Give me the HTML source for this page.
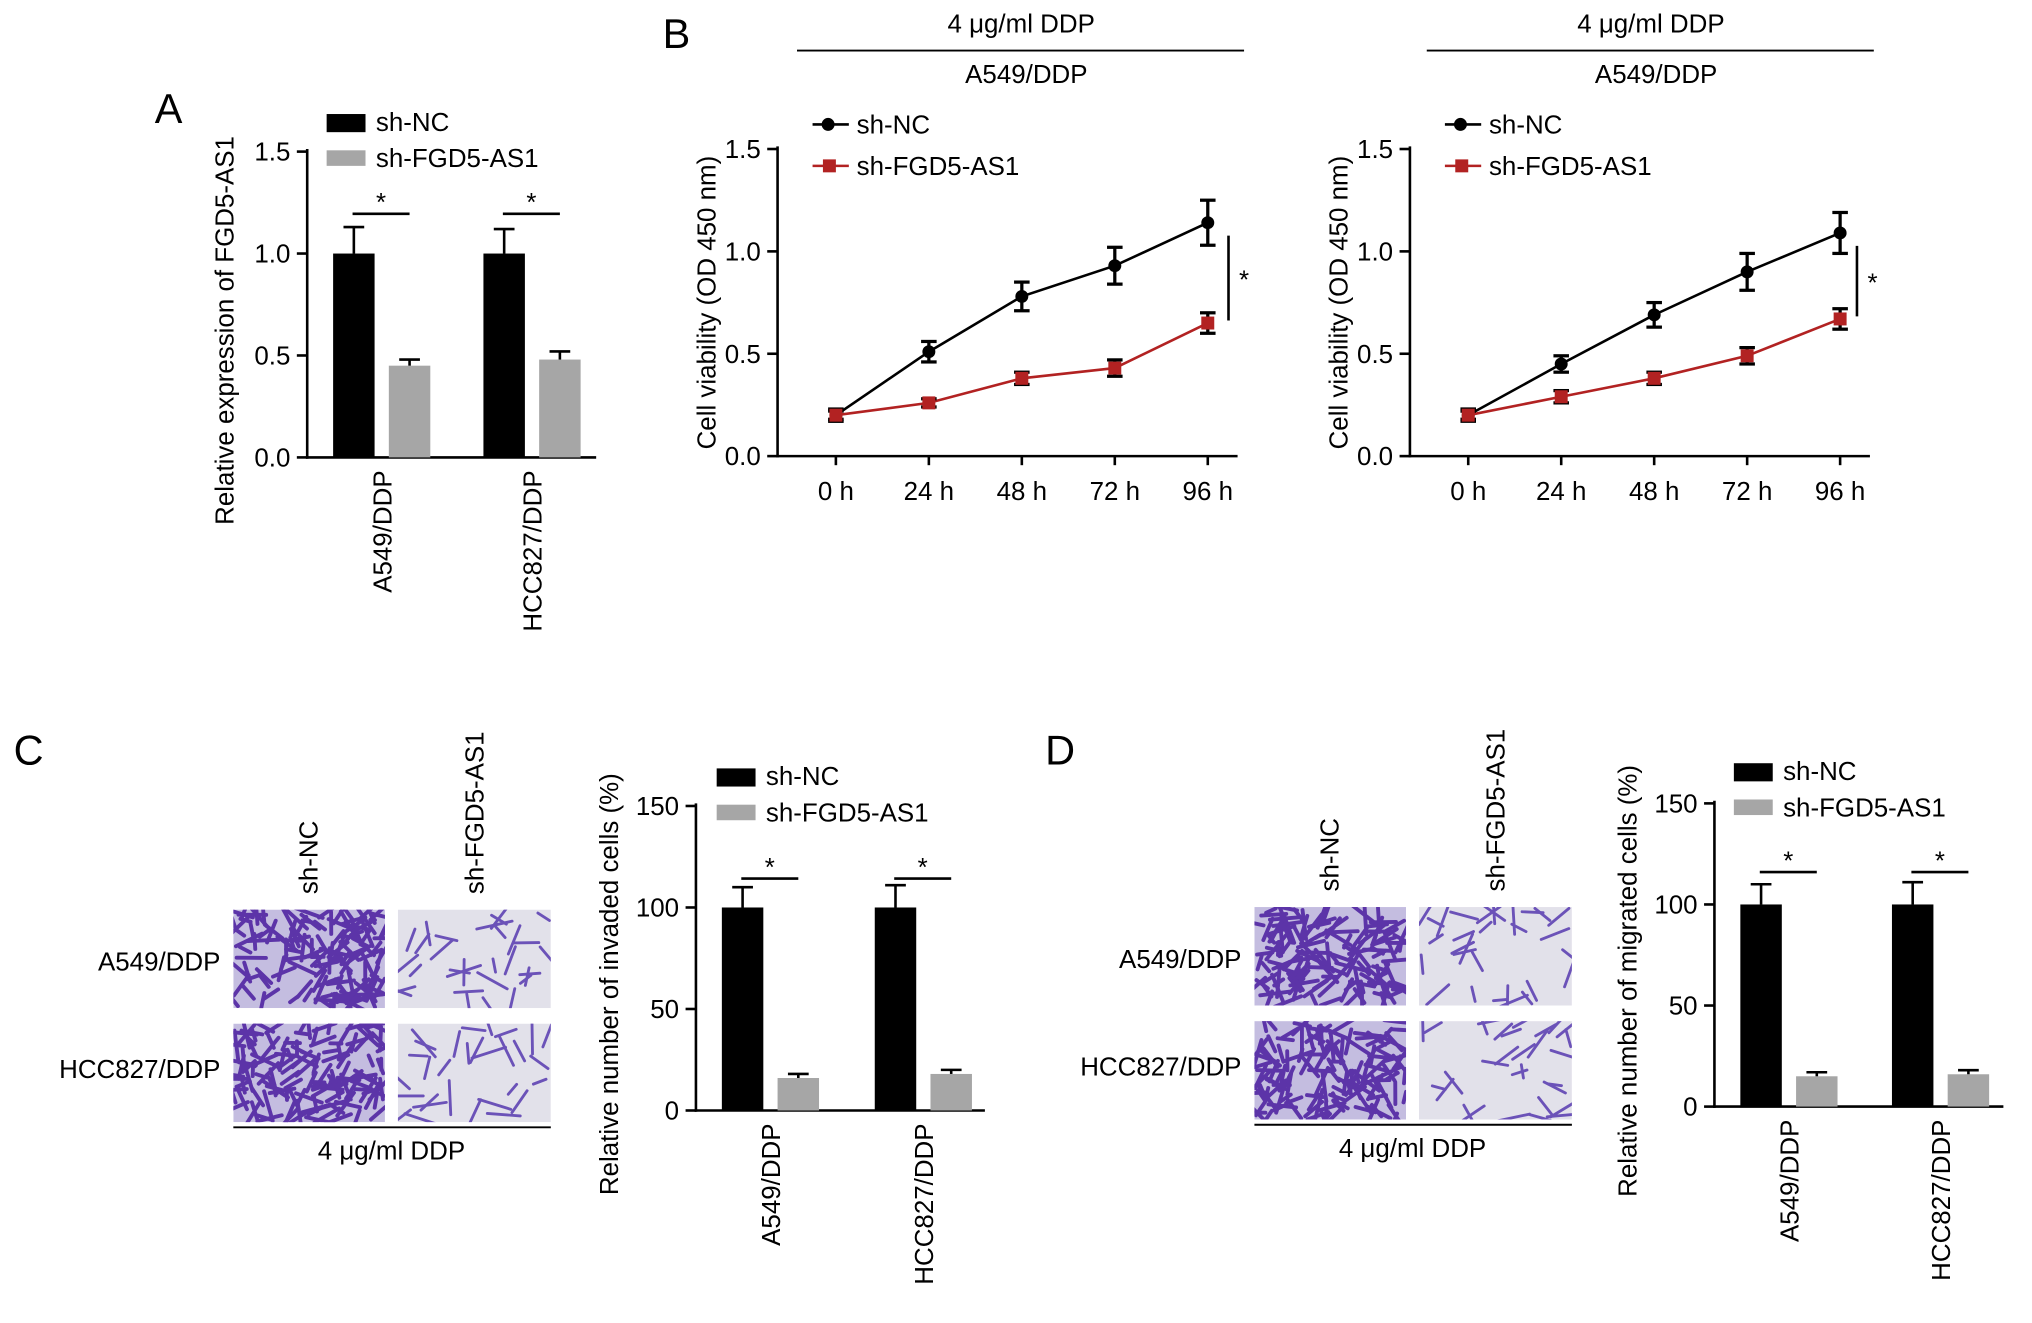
<!DOCTYPE html>
<html><head><meta charset="utf-8"><style>
html,body{margin:0;padding:0;background:#fff}
svg{display:block;font-family:"Liberation Sans",Arial,sans-serif}
</style></head><body>
<svg id="fig" width="2032" height="1323" viewBox="0 0 1568 1021" xmlns="http://www.w3.org/2000/svg">
<defs id="defs"></defs>
<g id="root"></g>
</svg>
<script>
// ===== Data =====
const barGroups = ["A549/DDP","HCC827/DDP"];
const aNC = [1.0, 1.0];
const aNCerr = [0.13, 0.12];
const aSh = [0.45, 0.48];
const aSherr = [0.03, 0.04];
const aTicks = [0, 0.5, 1.0, 1.5];

const timeLabels = ["0 h","24 h","48 h","72 h","96 h"];
const b1NC = [0.20, 0.51, 0.78, 0.93, 1.14];
const b1NCerr = [0.03, 0.05, 0.07, 0.09, 0.11];
const b1Sh = [0.20, 0.26, 0.38, 0.43, 0.65];
const b1Sherr = [0.02, 0.02, 0.03, 0.04, 0.05];
const b2NC = [0.20, 0.45, 0.69, 0.90, 1.09];
const b2NCerr = [0.03, 0.04, 0.06, 0.09, 0.10];
const b2Sh = [0.20, 0.29, 0.38, 0.49, 0.67];
const b2Sherr = [0.02, 0.03, 0.03, 0.04, 0.05];
const bTicks = [0, 0.5, 1.0, 1.5];

const cNC = [100, 100];
const cNCerr = [10, 11];
const cSh = [16, 18];
const cSherr = [2, 2];
const dNC = [100, 100];
const dNCerr = [10, 11];
const dSh = [15, 16];
const dSherr = [2, 2];
const cdTicks = [0, 50, 100, 150];

// ===== helpers =====
const NS="http://www.w3.org/2000/svg";
const root=document.getElementById('root');
const defs=document.getElementById('defs');
function el(tag,attrs,parent,text){
  const e=document.createElementNS(NS,tag);
  for(const k in attrs)e.setAttribute(k,attrs[k]);
  if(text!==undefined)e.textContent=text;
  (parent||root).appendChild(e);return e;
}
function txt(x,y,s,size,anchor,parent,rot,name){
  const a={x:x,y:y,'font-size':size,'text-anchor':anchor||'middle',fill:'#000'};
  if(rot)a.transform=`rotate(${rot} ${x} ${y})`;
  const t=el('text',a,parent,s);
  
  
  return t;
}
function line(x1,y1,x2,y2,parent,w,c){return el('line',{x1,y1,x2,y2,stroke:c||'#000','stroke-width':w||2},parent);}

function barChart(o){
  const g=el('g',{},root);
  
  
  const y=v=>o.y0-(v/o.ymax)*(o.y0-o.yTop);
  line(o.ax,o.yTop-2,o.ax,o.y0+1,g);
  line(o.ax-1,o.y0,o.xEnd,o.y0,g);
  o.ticks.forEach(t=>{line(o.ax-8,y(t),o.ax,y(t),g);
    txt(o.ax-13,y(t)+7,o.fmt(t),20,'end',g,0,'y-tick-label');});
  txt(o.titleX,(o.y0+o.yTop)/2+20,o.title,20,'middle',g,-90,'y-axis-title');
  barGroups.forEach((grp,i)=>{
    const bx=o.gx[i];
    const b1=el('rect',{x:bx,y:y(o.nc[i]),width:32,height:o.y0-y(o.nc[i]),fill:'#000'},g);
    
    
    const e1=y(o.nc[i]+o.ncErr[i]);
    line(bx+16,e1,bx+16,y(o.nc[i]),g);line(bx+8,e1,bx+24,e1,g);
    const b2=el('rect',{x:bx+43,y:y(o.sh[i]),width:32,height:o.y0-y(o.sh[i]),fill:'#a6a6a6'},g);
    
    
    const e2=y(o.sh[i]+o.shErr[i]);
    line(bx+59,e2,bx+59,y(o.sh[i]),g);line(bx+51,e2,bx+67,e2,g);
    const sy=o.sigY;
    line(bx+15,sy,bx+59,sy,g);
    txt(bx+37,sy-2,'*',20,'middle',g,0,'significance-star');
    txt(bx+45,o.y0+10,grp,20,'end',g,-90,'x-tick-label');
  });
  const lg=el('g',{},g);
  
  
  el('rect',{x:o.lx,y:o.ly,width:30,height:14,fill:'#000'},lg);
  txt(o.lx+38,o.ly+13,'sh-NC',20,'start',lg,0,'legend-entry');
  el('rect',{x:o.lx,y:o.ly+28,width:30,height:12,fill:'#a6a6a6'},lg);
  txt(o.lx+38,o.ly+41,'sh-FGD5-AS1',20,'start',lg,0,'legend-entry');
}

function lineChart(o){
  const g=el('g',{},root);
  
  
  const y=v=>o.y0-(v/1.5)*(o.y0-o.yTop);
  const x=i=>o.x0+i*o.dx;
  line(o.ax,o.yTop-2,o.ax,o.y0+1,g);
  line(o.ax-1,o.y0,o.ax+355,o.y0,g);
  bTicks.forEach(t=>{line(o.ax-8,y(t),o.ax,y(t),g);
    txt(o.ax-13,y(t)+7,t.toFixed(1),20,'end',g,0,'y-tick-label');});
  timeLabels.forEach((l,i)=>{line(x(i),o.y0,x(i),o.y0+7,g);
    txt(x(i),o.y0+34,l,20,'middle',g,0,'x-tick-label');});
  txt(o.ax-48,(o.y0+o.yTop)/2,'Cell viability (OD 450 nm)',20,'middle',g,-90,'y-axis-title');
  [[o.nc,o.ncErr,'#000','sh-nc'],[o.sh,o.shErr,'#b22222','sh-fgd5-as1']].forEach(([vals,errs,c,nm])=>{
    const pts=vals.map((v,i)=>x(i)+','+y(v)).join(' ');
    const pl=el('polyline',{points:pts,fill:'none',stroke:c,'stroke-width':2},g);
    
    
    vals.forEach((v,i)=>{
      const t=y(v+errs[i]),b=y(v-errs[i]);
      line(x(i),t,x(i),b,g,2.5,'#000');line(x(i)-6,t,x(i)+6,t,g,2.5,'#000');line(x(i)-6,b,x(i)+6,b,g,2.5,'#000');
      let m;
      if(c==='#000')m=el('circle',{cx:x(i),cy:y(v),r:5,fill:c},g);
      else m=el('rect',{x:x(i)-5,y:y(v)-5,width:10,height:10,fill:c},g);
      
      
    });
  });
  line(o.sigX,y(o.nc[4])+10,o.sigX,y(o.sh[4])-2,g);
  txt(o.sigX+12,(y(o.nc[4])+y(o.sh[4]))/2+12,'*',20,'middle',g,0,'significance-star');
  txt(o.hx,25,'4 μg/ml DDP',20,'middle',g,0,'treatment-header');
  line(o.hx-173,39,o.hx+172,39,g,1.5);
  txt(o.hx+4,64,'A549/DDP',20,'middle',g,0,'cell-line-header');
  const lg=el('g',{},g);
  
  
  line(o.lx,96,o.lx+28,96,lg);el('circle',{cx:o.lx+12,cy:96,r:5,fill:'#000'},lg);
  txt(o.lx+34,103,'sh-NC',20,'start',lg,0,'legend-entry');
  line(o.lx,128,o.lx+28,128,lg,2,'#b22222');el('rect',{x:o.lx+8,y:123,width:10,height:10,fill:'#b22222'},lg);
  txt(o.lx+34,135,'sh-FGD5-AS1',20,'start',lg,0,'legend-entry');
}

let seed=7;function rnd(){seed=(seed*16807)%2147483647;return seed/2147483647;}
let clipN=0;
function micro(x,y,w,h,dense,name){
  const id='clip'+(clipN++);
  const cp=el('clipPath',{id:id},defs);
  el('rect',{x,y,width:w,height:h},cp);
  const g=el('g',{'clip-path':`url(#${id})`},root);
  
  
  el('rect',{x,y,width:w,height:h,fill:dense?'#c4bde0':'#e2e1ea'},g);
  const n=dense?140:30;
  for(let i=0;i<n;i++){
    const cx=x+rnd()*w,cy=y+rnd()*h,a=rnd()*Math.PI,l=dense?(4+rnd()*8):(5+rnd()*9);
    el('line',{x1:cx-Math.cos(a)*l,y1:cy-Math.sin(a)*l,x2:cx+Math.cos(a)*l,y2:cy+Math.sin(a)*l,stroke:dense?'#5c34a8':'#6b52b8','stroke-width':dense?3:2.2,'stroke-linecap':'round'},g);
  }
}
function microPanel(ox,oy,name){
  const g=el('g',{},root);
  
  
  micro(ox,oy,117,76,true,'image-a549-sh-nc');
  micro(ox+127,oy,118,76,false,'image-a549-sh-fgd5-as1');
  micro(ox,oy+88,117,76,true,'image-hcc827-sh-nc');
  micro(ox+127,oy+88,118,76,false,'image-hcc827-sh-fgd5-as1');
  txt(ox-10,oy+47,'A549/DDP',20,'end',g,0,'row-label');
  txt(ox-10,oy+130,'HCC827/DDP',20,'end',g,0,'row-label');
  txt(ox+65,oy-12,'sh-NC',20,'start',g,-90,'column-label');
  txt(ox+193,oy-12,'sh-FGD5-AS1',20,'start',g,-90,'column-label');
  line(ox,oy+168,ox+245,oy+168,g,1.5);
  txt(ox+122,oy+193,'4 μg/ml DDP',20,'middle',g,0,'treatment-label');
}

txt(130,95,'A',32,'middle',root,0,'panel-label-a');
txt(522,37,'B',32,'middle',root,0,'panel-label-b');
txt(22,590,'C',32,'middle',root,0,'panel-label-c');
txt(818,590,'D',32,'middle',root,0,'panel-label-d');

barChart({name:'chart-a',ax:237,xEnd:460,y0:353,yTop:117,ymax:1.5,ticks:aTicks,fmt:t=>t.toFixed(1),
  title:'Relative expression of FGD5-AS1',titleX:180,gx:[257,373],nc:aNC,ncErr:aNCerr,sh:aSh,shErr:aSherr,sigY:165,lx:252,ly:88});
lineChart({name:'chart-b-left',ax:600,x0:645,dx:71.75,y0:352,yTop:115,nc:b1NC,ncErr:b1NCerr,sh:b1Sh,shErr:b1Sherr,sigX:948,hx:788,lx:627});
lineChart({name:'chart-b-right',ax:1088,x0:1133,dx:71.75,y0:352,yTop:115,nc:b2NC,ncErr:b2NCerr,sh:b2Sh,shErr:b2Sherr,sigX:1433,hx:1274,lx:1115});
microPanel(180,702,'micrographs-invasion');
microPanel(968,700,'micrographs-migration');
barChart({name:'chart-c',ax:537,xEnd:760,y0:857,yTop:622,ymax:150,ticks:cdTicks,fmt:t=>String(t),
  title:'Relative number of invaded cells (%)',titleX:477,gx:[557,675],nc:cNC,ncErr:cNCerr,sh:cSh,shErr:cSherr,sigY:678,lx:553,ly:593});
barChart({name:'chart-d',ax:1323,xEnd:1546,y0:854,yTop:620,ymax:150,ticks:cdTicks,fmt:t=>String(t),
  title:'Relative number of migrated cells (%)',titleX:1263,gx:[1343,1460],nc:dNC,ncErr:dNCerr,sh:dSh,shErr:dSherr,sigY:673,lx:1338,ly:589});
</script>
</body></html>
